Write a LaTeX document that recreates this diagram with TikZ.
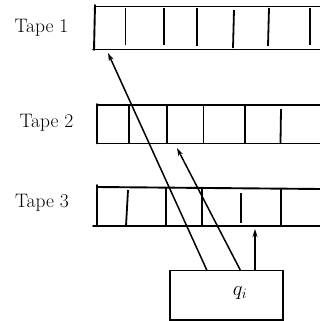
\documentclass[tikz,border=0pt]{standalone}
\usetikzlibrary{arrows.meta}
\begin{document}
\begin{tikzpicture}[x=1pt,y=-1pt,
  tape/.style={line width=1.9pt, line cap=round},
  cell/.style={line width=1.8pt},
  arr/.style={line width=1.5pt, -{Stealth[length=8pt,width=5pt]}},
  label/.style={font=\fontsize{19.5}{23}\selectfont, anchor=base}]
\useasboundingbox (0,0) rectangle (320,321);

% tape labels
\node[label] (l1) at (41.5,33) {Tape 1};
\node[label] (l2) at (46.5,127) {Tape 2};
\node[label] (l3) at (42,207.5) {Tape 3};

% Tape 1
\draw[tape] (95,5) -- (94,50);
\draw[tape] (95,6.5) -- (321,6.5);
\draw[tape] (93,49.5) -- (321,49.5);
\draw[cell] (125.5,8) -- (125.5,45);
\draw[cell] (164,8) -- (164,45);
\draw[cell] (197,8) -- (197,46);
\draw[cell] (234,10) -- (233,48);
\draw[cell] (269,8) -- (268,46);
\draw[cell] (310,8) -- (310,45);

% Tape 2
\draw[tape] (97,104) -- (97,143.5);
\draw[tape] (97,105) -- (321,105);
\draw[tape] (97,143.5) -- (321,143.5);
\draw[cell] (129,105) -- (129,143);
\draw[cell] (167,105) -- (167,143);
\draw[cell] (203.5,105) -- (203.5,143);
\draw[cell] (245,105) -- (245,143);
\draw[cell] (281,109) -- (280.5,143);

% Tape 3
\draw[tape] (97,185) -- (97,226);
\draw[tape] (97,187) -- (321,189);
\draw[tape] (93,226) -- (321,226);
\draw[cell] (128,190) -- (126,226);
\draw[cell] (166,187) -- (166,226);
\draw[cell] (202,187.5) -- (202,226);
\draw[cell] (241,193) -- (241,223);
\draw[cell] (281,189) -- (281,226);

% finite control
\node[draw, line width=1.9pt, minimum width=113pt, minimum height=49.5pt,
      inner sep=0pt] (head) at (226.5,295.25) {};
\node[font=\fontsize{20}{24}\selectfont] (q) at (240,293) {$q_i$};

% read heads
\coordinate (f1) at (207,270.5);
\coordinate (f2) at (240.5,270.5);
\coordinate (f3) at (255,270.5);
\coordinate (t1) at (108,53);
\coordinate (t2) at (177,148);
\coordinate (t3) at (255,229);
\draw[arr] (f1) -- (t1);
\draw[arr] (f2) -- (t2);
\draw[arr] (f3) -- (t3);
\end{tikzpicture}
\end{document}
